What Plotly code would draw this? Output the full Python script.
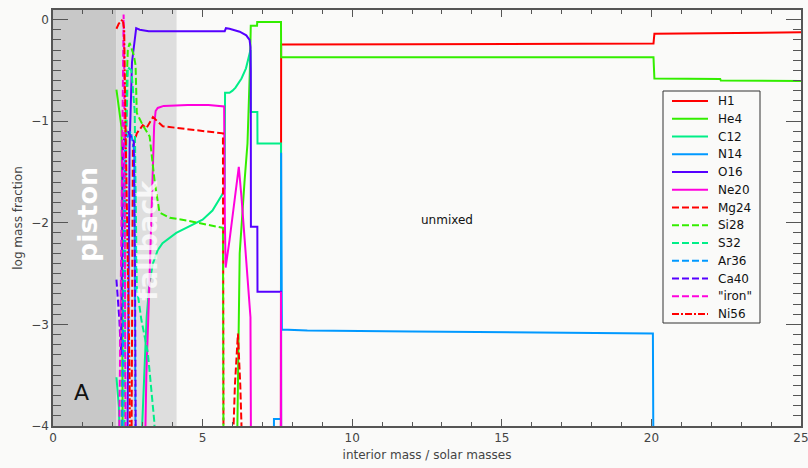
import plotly.graph_objects as go

# Shaded zones (interior mass, solar masses)
PISTON_EDGE = 2.12
FALLBACK_EDGE = 4.13

# Log mass fraction profiles vs. interior mass
h1_m = [7.615, 7.625, 12.0, 17.0, 20.07, 20.10, 22.3, 25.0]
h1_v = [-4.5, -0.245, -0.242, -0.238, -0.236, -0.14, -0.13, -0.125]

he4_m = [2.12, 2.20, 2.29, 2.31, 2.33, 6.14, 6.24, 6.40, 6.50, 6.58, 6.61, 6.82, 6.825, 7.62, 7.625, 20.07, 20.10, 22.3, 22.32, 25.0]
he4_v = [-0.69, -0.85, -1.06, -2.0, -4.5, -4.5, -2.3, -1.6, -1.22, -0.5, -0.06, -0.06, -0.025, -0.025, -0.37, -0.37, -0.58, -0.585, -0.6, -0.605]

c12_m = [2.12, 2.20, 2.27, 2.93, 2.98, 3.05, 3.13, 3.22, 3.34, 3.50, 3.66, 4.12, 4.60, 5.00, 5.33, 5.55, 5.66, 5.74, 5.75, 5.90, 6.00, 6.10, 6.30, 6.45, 6.55, 6.60, 6.61, 6.83, 6.835, 7.62, 7.625]
c12_v = [-3.52, -3.8, -4.5, -4.5, -4.0, -3.4, -2.93, -2.6, -2.4, -2.27, -2.2, -2.1, -2.03, -1.97, -1.88, -1.78, -1.72, -1.66, -0.72, -0.72, -0.70, -0.67, -0.58, -0.48, -0.36, -0.3, -0.91, -0.91, -1.22, -1.22, -4.5]

n14_m = [7.38, 7.385, 7.62, 7.625, 7.65, 8.5, 12.0, 17.0, 20.05, 20.07]
n14_v = [-4.5, -3.93, -3.93, -1.31, -3.05, -3.06, -3.07, -3.08, -3.09, -4.5]

o16_m = [2.48, 2.52, 2.55, 2.56, 2.64, 2.78, 2.90, 3.20, 5.74, 5.78, 5.90, 6.24, 6.46, 6.57, 6.60, 6.61, 6.615, 6.83, 6.835, 7.62, 7.625]
o16_v = [-4.5, -3.0, -1.8, -1.25, -0.42, -0.085, -0.10, -0.115, -0.115, -0.085, -0.09, -0.12, -0.155, -0.2, -0.27, -0.5, -2.04, -2.04, -2.68, -2.68, -4.5]

ne20_m = [3.06, 3.12, 3.20, 3.28, 3.33, 3.38, 3.43, 3.50, 3.70, 4.50, 5.20, 5.72, 5.745, 5.77, 5.90, 6.07, 6.17, 6.21, 6.30, 6.40, 6.50, 6.60, 6.62, 7.615, 7.62, 7.625]
ne20_v = [-4.5, -3.5, -2.8, -2.07, -1.5, -1.05, -0.9, -0.87, -0.85, -0.84, -0.84, -0.855, -2.0, -2.44, -2.17, -1.78, -1.51, -1.45, -1.75, -2.15, -2.55, -2.93, -4.5, -4.5, -2.68, -4.5]

mg24_m = [2.62, 2.65, 2.67, 2.80, 3.00, 3.12, 3.34, 3.67, 4.50, 5.68, 5.70, 5.98, 6.08, 6.18, 6.26, 6.35]
mg24_v = [-4.5, -2.0, -1.25, -1.12, -1.04, -1.07, -0.96, -1.05, -1.08, -1.12, -4.5, -4.5, -3.6, -3.09, -3.6, -4.5]

si28_m = [2.28, 2.35, 2.42, 2.50, 2.56, 2.70, 2.76, 2.80, 3.00, 3.23, 3.40, 3.56, 3.90, 4.50, 5.20, 5.68, 5.70]
si28_v = [-4.5, -2.5, -1.0, -0.3, -0.23, -0.35, -0.45, -0.92, -1.04, -1.15, -1.6, -1.9, -1.95, -1.98, -2.02, -2.05, -4.5]

s32_m = [2.38, 2.43, 2.50, 2.62, 2.73, 2.77, 2.80, 2.95, 3.17, 3.39, 3.41]
s32_v = [-4.5, -1.5, -0.47, -0.5, -0.9, -2.0, -2.63, -2.95, -3.28, -3.97, -4.5]

ar36_m = [2.30, 2.36, 2.40, 2.60, 2.72, 2.76]
ar36_v = [-4.5, -2.0, -1.2, -1.1, -1.3, -4.5]

ca40_m = [2.12, 2.22, 2.27, 2.31, 2.34, 2.50, 2.70, 2.74, 2.77]
ca40_v = [-2.56, -2.96, -3.3, -2.0, -1.2, -1.1, -1.2, -2.5, -4.5]

fe_m = [2.20, 2.30, 2.34, 2.36, 2.38, 2.40, 2.43]
fe_v = [-4.5, -2.0, -0.5, 0.05, -0.5, -2.0, -4.5]

ni56_m = [2.12, 2.20, 2.33, 2.38, 2.40, 2.45, 2.52, 2.56, 2.58]
ni56_v = [-0.09, -0.04, 0.0, -0.1, -0.6, -1.5, -2.5, -3.5, -4.5]

DASH = "7px,3px"
DASHDOT = "7px,2px,2px,2px"

species = [
    ("H1", h1_m, h1_v, "#ff0000", "solid"),
    ("He4", he4_m, he4_v, "#33ee00", "solid"),
    ("C12", c12_m, c12_v, "#00ee88", "solid"),
    ("N14", n14_m, n14_v, "#0099ff", "solid"),
    ("O16", o16_m, o16_v, "#5500ff", "solid"),
    ("Ne20", ne20_m, ne20_v, "#ff00dd", "solid"),
    ("Mg24", mg24_m, mg24_v, "#ff0000", DASH),
    ("Si28", si28_m, si28_v, "#33ee00", DASH),
    ("S32", s32_m, s32_v, "#00ee88", DASH),
    ("Ar36", ar36_m, ar36_v, "#0099ff", DASH),
    ("Ca40", ca40_m, ca40_v, "#5500ff", DASH),
    ('"iron"', fe_m, fe_v, "#ff00dd", DASH),
    ("Ni56", ni56_m, ni56_v, "#ff0000", DASHDOT),
]

FONT = "DejaVu Sans"
AXIS_COL = "#555555"
BG = "#fafaf9"

W, H = 808, 468
ML, MR, MT, MB = 53, 7, 10, 42
PW, PH = W - ML - MR, H - MT - MB


def px_x(p):
    return (p - ML) / PW


def px_y(p):
    return 1 - (p - MT) / PH


fig = go.Figure()
for name, m, v, col, dash in species:
    fig.add_trace(go.Scatter(
        x=m, y=v, mode="lines", name=name,
        line=dict(color=col, width=2, dash=dash),
    ))

fig.add_shape(type="rect", xref="x", yref="paper", x0=0, x1=PISTON_EDGE, y0=0, y1=1,
              fillcolor="#c8c8c8", line_width=0, layer="below")
fig.add_shape(type="rect", xref="x", yref="paper", x0=PISTON_EDGE, x1=FALLBACK_EDGE, y0=0, y1=1,
              fillcolor="#dedede", line_width=0, layer="below")

fig.add_annotation(x=1.15, y=-1.92, text="<b>piston</b>", textangle=-90, showarrow=False,
                   font=dict(family=FONT, size=27, color="white"))
fig.add_annotation(x=3.13, y=-2.17, text="<b>fallback</b>", textangle=-90, showarrow=False,
                   font=dict(family=FONT, size=27, color="rgba(255,255,255,0.8)"))
fig.add_annotation(x=0.95, y=-3.67, text="A", showarrow=False,
                   font=dict(family=FONT, size=22, color="#111111"))
fig.add_annotation(x=13.17, y=-1.97, text="unmixed", showarrow=False,
                   font=dict(family=FONT, size=12, color="#111111"))

# Key box with one sample line and label per species
BOX_L, BOX_R, BOX_T, BOX_B = 663, 760, 91, 323
ROW0, ROW_H = 101, 17.75
fig.add_shape(type="rect", xref="paper", yref="paper",
              x0=px_x(BOX_L), x1=px_x(BOX_R), y0=px_y(BOX_B), y1=px_y(BOX_T),
              fillcolor=BG, line=dict(color="#333333", width=1), layer="above")
for i, (name, _m, _v, col, dash) in enumerate(species):
    yy = px_y(ROW0 + i * ROW_H)
    fig.add_shape(type="line", xref="paper", yref="paper",
                  x0=px_x(672), x1=px_x(708), y0=yy, y1=yy,
                  line=dict(color=col, width=2, dash=dash), layer="above")
    fig.add_annotation(xref="paper", yref="paper", x=px_x(716), y=yy, text=name,
                       xanchor="left", yanchor="middle", showarrow=False,
                       font=dict(family=FONT, size=12, color="#111111"))

axis_common = dict(
    showgrid=False, zeroline=False, showline=True, linecolor=AXIS_COL, linewidth=1.5,
    mirror="allticks", ticks="inside", tickcolor=AXIS_COL, automargin=False,
    ticklabeloverflow="allow",
    tickfont=dict(family=FONT, size=12, color="#444444"),
)

fig.update_xaxes(
    range=[0, 25], dtick=5, tick0=0, ticklen=7, tickwidth=1,
    minor=dict(dtick=1, ticklen=4, ticks="inside", tickcolor=AXIS_COL),
    title=dict(text="interior mass / solar masses", font=dict(family=FONT, size=12, color="#444444"), standoff=6),
    **axis_common,
)
fig.update_yaxes(
    range=[-4, 0.094], dtick=1, tick0=0, ticklen=15, tickwidth=1,
    minor=dict(dtick=0.1, ticklen=8, ticks="inside", tickcolor=AXIS_COL),
    tickformat="d",
    title=dict(text="log mass fraction", font=dict(family=FONT, size=12, color="#444444"), standoff=6),
    **axis_common,
)

fig.update_layout(
    width=W, height=H,
    margin=dict(l=ML, r=MR, t=MT, b=MB),
    paper_bgcolor=BG, plot_bgcolor=BG,
    showlegend=False,
)

fig.write_html("out.html")
